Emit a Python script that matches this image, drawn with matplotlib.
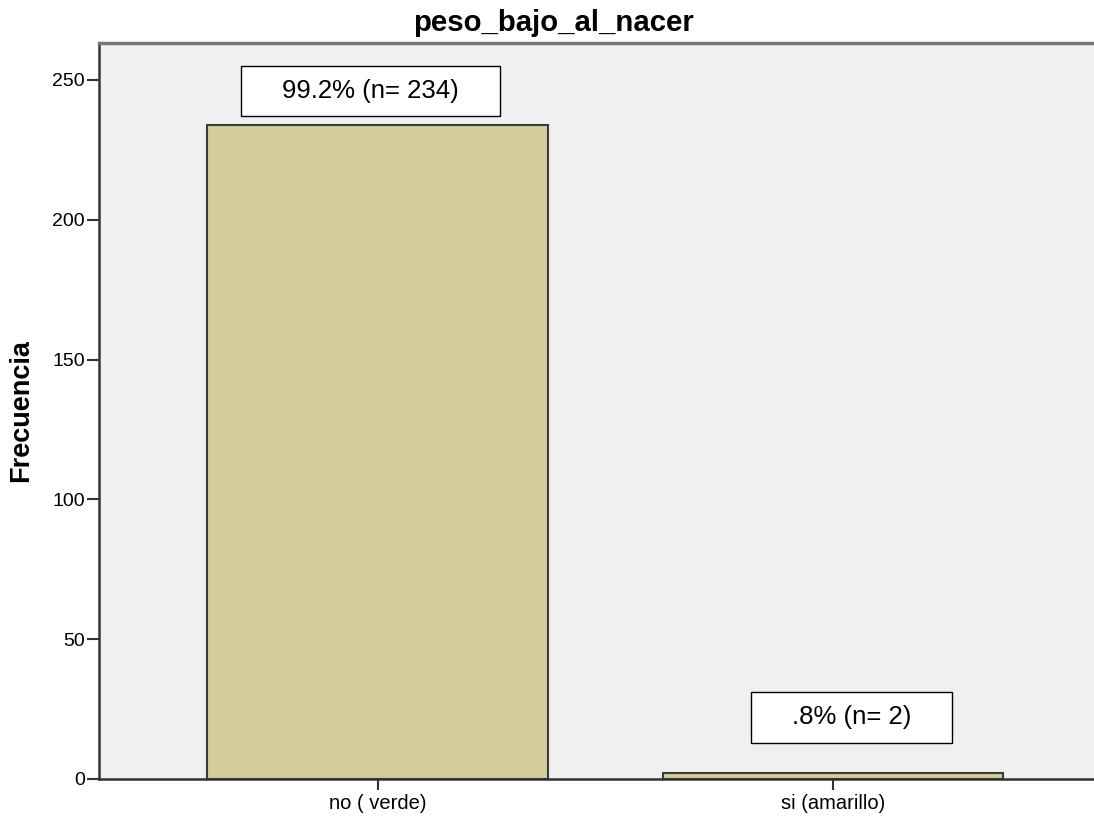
import matplotlib.pyplot as plt
from matplotlib.path import Path

plt.rcParams['font.family'] = ['Liberation Sans', 'DejaVu Sans']

# data
categories = ['no ( verde)', 'si (amarillo)']
counts = [234, 2]
yticks = [0, 50, 100, 150, 200, 250]

total = sum(counts)


def pct_label(n):
    p = '%.1f' % (100.0 * n / total)
    if p.startswith('0.'):
        p = p[1:]
    return '%s%% (n= %d)' % (p, n)


def wide_box(x0, y0, width, height, mutation_size):
    # rectangle with more padding left/right than top/bottom
    px = 1.6 * mutation_size
    py = 0.52 * mutation_size
    x0, y0 = x0 - px, y0 - py
    x1, y1 = x0 + width + 2 * px, y0 + height + 2 * py
    return Path([(x0, y0), (x1, y0), (x1, y1), (x0, y1), (x0, y0)], closed=True)


fig = plt.figure(figsize=(10.94, 8.18), dpi=100)
ax = fig.add_axes([0.0905, 0.0477, 0.915, 0.8997])
ax.set_facecolor('#F0F0F0')

x = list(range(len(categories)))
ax.bar(x, counts, width=0.746, color='#D3CE99', edgecolor='#3A3A3A', linewidth=1.5, zorder=2)

# labels above bars (SPSS style boxes)
label_dx = [-0.015, 0.04]
label_dy = [12, 20]
for i, n in enumerate(counts):
    ax.text(x[i] + label_dx[i], n + label_dy[i], pct_label(n), fontsize=18.5,
            ha='center', va='center', zorder=3,
            bbox=dict(boxstyle=wide_box, facecolor='white', edgecolor='black', linewidth=1))

ax.set_xlim(-0.611, 1.585)
ax.set_ylim(0, 263.2)
ax.set_yticks(yticks)
ax.set_xticks(x)
ax.set_xticklabels(categories)

ax.tick_params(axis='y', direction='out', length=9, width=1.5, color='#333333', pad=1, labelsize=14)
ax.tick_params(axis='x', direction='out', length=8, width=1.5, color='#333333', pad=3, labelsize=14.5)

for s in ['left', 'bottom']:
    ax.spines[s].set_color('#333333')
    ax.spines[s].set_linewidth(1.8)
ax.spines['top'].set_color('#777777')
ax.spines['top'].set_linewidth(2.5)
ax.spines['right'].set_visible(False)

ax.set_ylabel('Frecuencia', fontsize=19.5, fontweight='bold')
ax.yaxis.set_label_coords(-0.065, 0.5)

fig.text(0.506, 0.962, 'peso_bajo_al_nacer', fontsize=21.2, fontweight='bold',
         ha='center', va='baseline')

fig.savefig('out.png', dpi=100)
